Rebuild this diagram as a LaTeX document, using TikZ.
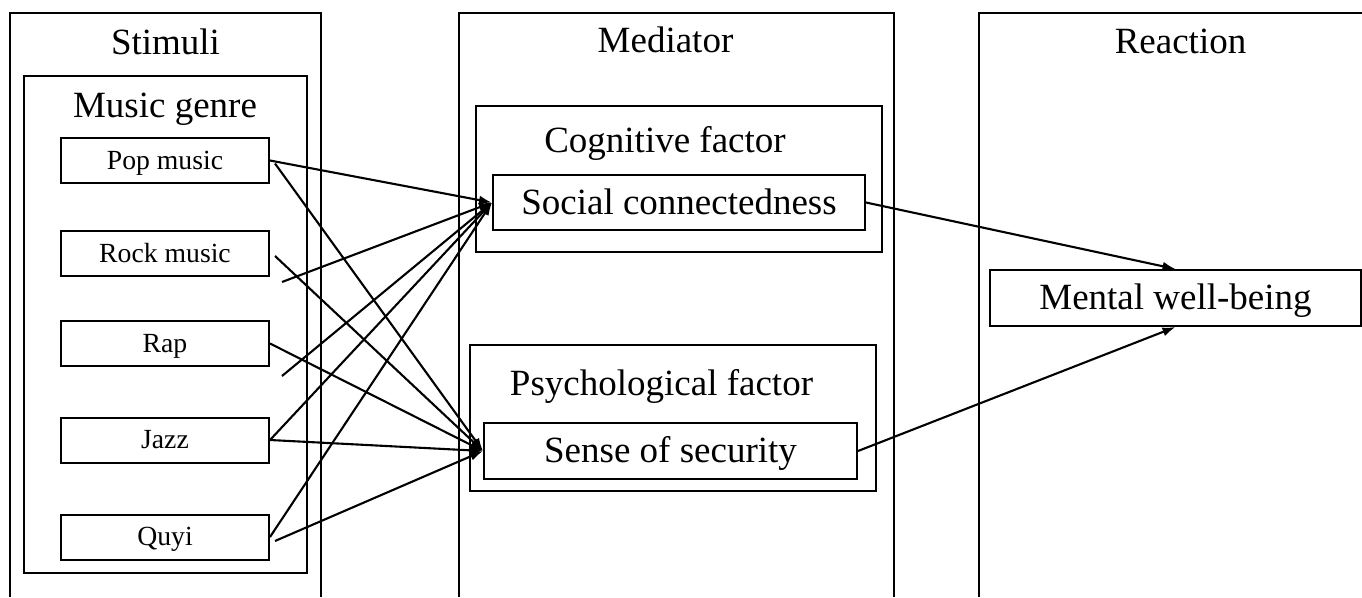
\documentclass[tikz,border=0pt]{standalone}
\usepackage{fontspec}
\setmainfont{Liberation Serif}
\usetikzlibrary{arrows.meta}
\begin{document}
\begin{tikzpicture}[x=1pt,y=-1pt,
  frame/.style={line width=1.7pt},
  big/.style={font=\fontsize{37}{44}\selectfont},
  small/.style={font=\fontsize{27.7}{33}\selectfont},
  holder/.style={draw, line width=1.7pt, inner sep=0pt},
  title/.style={anchor=base, inner sep=0pt},
  leafbox/.style={draw, line width=2pt, inner sep=0pt, anchor=center},
  smallbox/.style={leafbox, small, text height=22pt, text depth=4.3pt, minimum width=208, minimum height=45},
  bigbox/.style={leafbox, big, text height=29pt, text depth=5.3pt},
  conn/.style={line width=2.1pt, -{Latex[length=13pt,width=9pt]}}
]
\useasboundingbox (0,0) rectangle (1362,597);
\fill[white] (0,0) rectangle (1362,597);

% stage columns (open at the bottom)
\draw[frame] (10,597) -- (10,13) -- (321,13) -- (321,597);
\draw[frame] (459,597) -- (459,13) -- (894,13) -- (894,597);
\draw[frame] (979,597) -- (979,13) -- (1362,13);

% inner groups
\node[holder, minimum width=283, minimum height=497] (genre) at (165.5,324.5) {};
\node[holder, minimum width=406, minimum height=146] (cog) at (679,179) {};
\node[holder, minimum width=406, minimum height=146] (psy) at (673,418) {};

% titles
\node[title, big] (tstim) at (165.5,54) {Stimuli};
\node[title, big] (tmed) at (665.5,52) {Mediator};
\node[title, big] (treac) at (1180.5,53) {Reaction};
\node[title, big] (tgenre) at (165,117) {Music genre};
\node[title, big] (tcog) at (665,152) {Cognitive factor};
\node[title, big] (tpsy) at (661.5,395) {Psychological factor};

% leaf boxes
\node[smallbox] (pop) at (165,160.5) {Pop music};
\node[smallbox] (rock) at (165,253.5) {Rock music};
\node[smallbox] (rap) at (165,343.5) {Rap};
\node[smallbox] (jazz) at (165,440) {Jazz};
\node[smallbox] (quyi) at (165,537) {Quyi};

\node[bigbox, minimum width=372, minimum height=55] (soc) at (679,202.5) {Social connectedness};
\node[bigbox, minimum width=373, minimum height=56] (sense) at (670.5,451) {Sense of security};
\node[bigbox, minimum width=371, minimum height=56] (mental) at (1175.5,298) {Mental well-being};

% free starting points
\coordinate (f1) at (282,282);
\coordinate (f2) at (282,376);

% connectors
\draw[conn] (pop.east) -- (soc.west);
\draw[conn] ([shift={(5,3)}]pop.east) -- (sense.west);
\draw[conn] ([shift={(5,2.5)}]rock.east) -- (sense.west);
\draw[conn] (f1) -- (soc.west);
\draw[conn] (rap.east) -- (sense.west);
\draw[conn] (f2) -- (soc.west);
\draw[conn] (jazz.east) -- (soc.west);
\draw[conn] (jazz.east) -- (sense.west);
\draw[conn] (quyi.east) -- (soc.west);
\draw[conn] ([shift={(5,4)}]quyi.east) -- (sense.west);
\draw[conn] (soc.east) -- (mental.north);
\draw[conn] (sense.east) -- (mental.south);
\end{tikzpicture}
\end{document}
